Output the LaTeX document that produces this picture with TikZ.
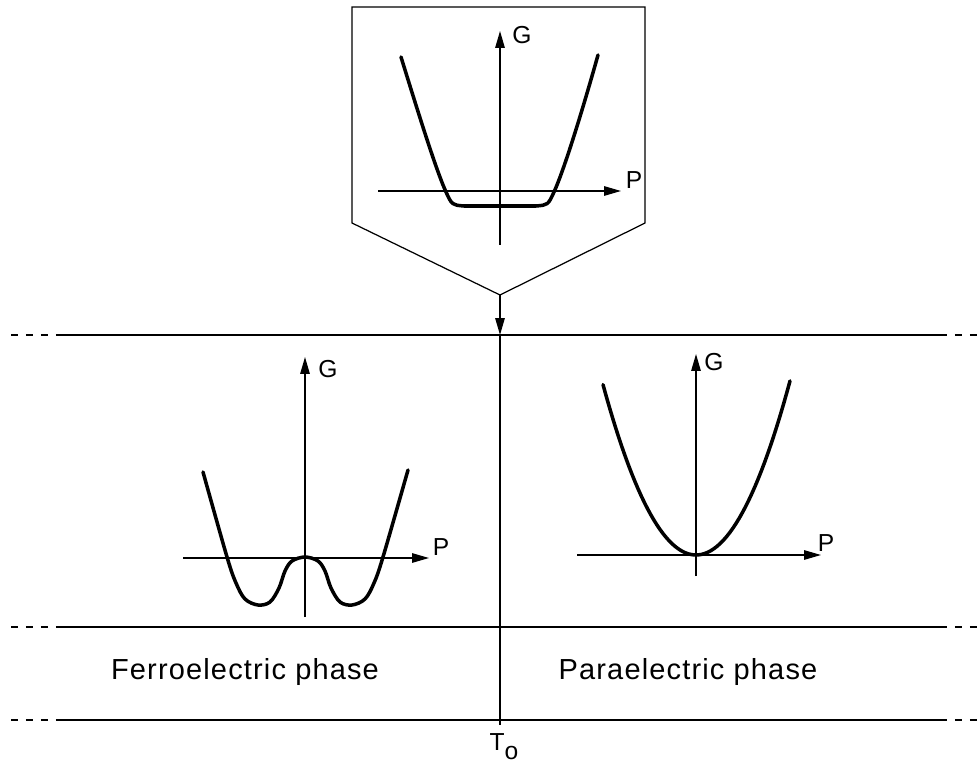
\documentclass[tikz,border=0pt]{standalone}
\usepackage{fontspec}
\setmainfont{Liberation Sans}
\newfontfamily\phasefont[LetterSpace=4]{Liberation Sans}
\usetikzlibrary{arrows.meta,positioning,calc}

\begin{document}
\begin{tikzpicture}[
  x=0.02cm, y=-0.02cm,
  axis/.style={line width=0.8pt,-{Triangle[length=3.4mm,width=1.9mm]}},
  curve/.style={line width=2pt,line cap=round,line join=round},
  frame/.style={line width=0.7pt,line join=miter},
  border/.style={line width=0.8pt},
  dashend/.style={line width=0.8pt,dash pattern=on 4pt off 4.5pt},
  axlabel/.style={font=\fontsize{14}{15}\selectfont,inner sep=0pt},
  phase/.style={font=\phasefont\fontsize{16.5}{18}\selectfont,inner sep=0pt},
]
\useasboundingbox (0,0) rectangle (979,763);

% phase boundaries
\foreach \y/\nm in {335/a,627/b,720/c}{
  \coordinate (\nm W) at (11,\y);
  \coordinate (\nm w) at (60,\y);
  \coordinate (\nm e) at (940,\y);
  \coordinate (\nm E) at (979,\y);
  \draw[dashend] (\nm W) -- (\nm w);
  \draw[border] (\nm w) -- (\nm e);
  \draw[dashend] (\nm e) -- (\nm E);
}

% transition box at T_o
\coordinate (apex) at (500,295);
\draw[frame] (352,7) -- (645,7) -- (645,223) -- (apex) -- (352,223) -- cycle;
\coordinate (tgS) at (500,245);
\coordinate (tgN) at (500,31);
\coordinate (tpW) at (378,191);
\coordinate (tpE) at (621,191);
\draw[axis] (tgS) -- (tgN);
\draw[axis] (tpW) -- (tpE);
\node[axlabel] (tG) at (522,35) {G};
\node[axlabel] (tP) at (634,180) {P};
\draw[curve] (401,57) .. controls (418,112) and (436,170) .. (446,192)
  .. controls (452,205) .. (464,206) -- (536,206)
  .. controls (548,205) .. (554,192)
  .. controls (564,170) and (582,112) .. (598,55);

% T_o line
\coordinate (hit) at (500,335);
\coordinate (tbot) at (500,725);
\draw[border,-{Triangle[length=3.4mm,width=1.9mm]}] (apex) -- (hit);
\draw[border] (hit) -- (tbot);
\node[axlabel] (To) at (504,747) {T\raisebox{-0.7ex}{o}};

% ferroelectric side
\coordinate (fgS) at (305,617);
\coordinate (fgN) at (305,357);
\coordinate (fpW) at (183,558);
\coordinate (fpE) at (429,558);
\draw[axis] (fgS) -- (fgN);
\draw[axis] (fpW) -- (fpE);
\node[axlabel] (fG) at (328,369) {G};
\node[axlabel] (fP) at (441,547) {P};
\draw[curve] plot[smooth,tension=0.55] coordinates {
  (203,472) (227,557) (236,583) (245,599) (258,605) (270,602) (279,588)
  (285,571) (292,561) (305,557) (318,561) (325,571) (331,588) (340,602)
  (352,605) (365,599) (374,583) (383,557) (408,470)};

% paraelectric side
\coordinate (pgS) at (696,576);
\coordinate (pgN) at (696,354);
\coordinate (ppW) at (577,555);
\coordinate (ppE) at (821,555);
\draw[axis] (pgS) -- (pgN);
\draw[axis] (ppW) -- (ppE);
\node[axlabel] (pG) at (714,362) {G};
\node[axlabel] (pP) at (826,543) {P};
\draw[curve] plot[domain=-93:94,samples=60] ({696+\x},{555-0.0197*\x*\x});

\node[phase] (ferro) at (245,672) {Ferroelectric phase};
\node[phase] (para) at (688,672) {Paraelectric phase};
\end{tikzpicture}
\end{document}
